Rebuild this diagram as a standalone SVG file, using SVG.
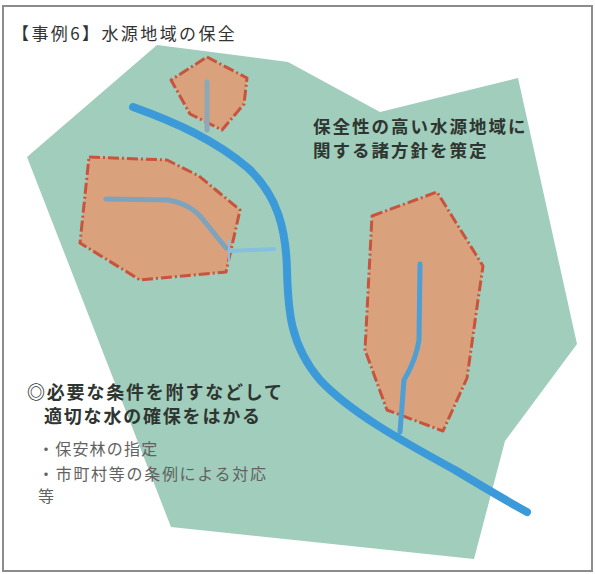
<svg xmlns="http://www.w3.org/2000/svg" width="595" height="574" viewBox="0 0 595 574">
  <style>
    .zone { fill: #d9a27c; stroke: #c9533d; stroke-width: 3; stroke-dasharray: 11 3 2 3; stroke-linejoin: round; }
    .river { fill: none; stroke: #3c9ad8; stroke-width: 8; stroke-linecap: round; stroke-linejoin: round; }
    .stream { fill: none; stroke-width: 5; stroke-linecap: round; stroke-linejoin: round; }
    .head { font-family: "Noto Sans CJK JP", "Noto Sans", sans-serif; font-weight: bold; fill: #2f3530; }
    .sub { font-family: "Noto Sans CJK JP", "Noto Sans", sans-serif; fill: #626262; font-size: 16px; }
  </style>

  <!-- frame -->
  <rect x="3" y="6" width="589" height="565" fill="#ffffff" stroke="#8c8c8c" stroke-width="2"/>

  <!-- catchment area -->
  <g id="area">
    <polygon points="157,45 288,62 380,112 518,78 577,344 505,441 474,559 171,527 27,157" fill="#a0cdbc"/>
  </g>

  <!-- protected zones -->
  <g id="zone-top">
    <polygon class="zone" points="207,57 247,78 244,104 222,130 190,114 171,80"/>
    <path class="stream" d="M207,82 L207,130" stroke="#8fa8b5"/>
  </g>
  <g id="zone-left">
    <polygon class="zone" points="89,157 167,160 199,176 240,210 226,272 140,280 80,243"/>
    <path class="stream" d="M106,199 L168,200 Q192,204 205,222 L226,248" stroke="#7fa3bd"/>
  </g>
  <g id="zone-right">
    <polygon class="zone" points="372,216 437,192 483,266 478,300 467,378 443,431 387,410 365,350"/>
    <path class="stream" d="M420,264 L419,340 Q416,360 404,380 L400,432" stroke="#4d9fd6"/>
  </g>

  <!-- rivers -->
  <g id="connectors">
    <path class="river" d="M133,107 C175,122 215,140 248,168 C278,196 286,230 287,270 C288,310 290,345 320,380 C350,412 400,440 455,470 C485,488 505,500 527,512"/>
    <path d="M230,251 L274,249" fill="none" stroke="#86bfe0" stroke-width="4" stroke-linecap="round"/>
    <path d="M229,240 L229,262" fill="none" stroke="#86bfe0" stroke-width="2"/>
  </g>

  <!-- labels -->
  <g id="title">
    <text x="12" y="40" font-family="Noto Sans CJK JP, Noto Sans, sans-serif" font-size="17" letter-spacing="2.4" fill="#333">【事例6】水源地域の保全</text>
  </g>
  <g id="policy">
    <text class="head" x="313" y="133" font-size="17.5" letter-spacing="2">保全性の高い水源地域に</text>
    <text class="head" x="313" y="157" font-size="17.5" letter-spacing="2">関する諸方針を策定</text>
  </g>
  <g id="measures">
    <text class="head" x="27" y="399" font-size="18" letter-spacing="1.8">◎必要な条件を附すなどして</text>
    <text class="head" x="44" y="423" font-size="18" letter-spacing="1.8">適切な水の確保をはかる</text>
    <text class="sub" x="38" y="455" letter-spacing="1.2">・保安林の指定</text>
    <text class="sub" x="38" y="480" letter-spacing="1.7">・市町村等の条例による対応</text>
    <text class="sub" x="38" y="502">等</text>
  </g>
</svg>
